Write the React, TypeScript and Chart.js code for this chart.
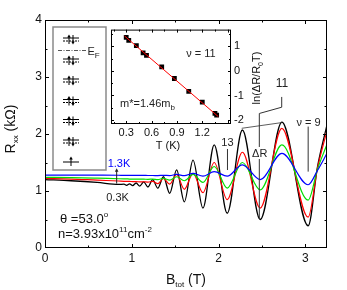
import React, { useEffect, useRef } from 'react';
import { Chart, registerables } from 'chart.js';

Chart.register(...registerables);

const FONT = "'Liberation Sans', Arial, Helvetica, sans-serif";

// ---- main panel: R_xx (kOhm) vs B_tot (T), four temperatures ----
const bField = [0, 0.3, 0.6, 0.85, 0.91, 0.941, 0.975, 1.011, 1.05, 1.092, 1.1375, 1.187, 1.241, 1.3, 1.365, 1.437, 1.517, 1.606, 1.706, 1.82, 1.95, 2.1, 2.275, 2.48, 2.73, 3.033, 3.14, 3.25];
const r03K = [1.2, 1.18, 1.15, 1.115, 1.12, 1.1, 1.125, 1.095, 1.14, 1.085, 1.16, 1.07, 1.2, 1.05, 1.25, 0.96, 1.37, 0.81, 1.54, 0.7, 1.81, 0.61, 2.07, 0.5, 2.21, 0.39, 1.42, 2.16];
const rRed = [1.22, 1.21, 1.19, 1.175, 1.17, 1.17, 1.168, 1.165, 1.165, 1.16, 1.162, 1.155, 1.17, 1.13, 1.22, 1.12, 1.29, 1.03, 1.31, 0.97, 1.5, 0.85, 1.68, 0.7, 2.1, 0.54, 1.4, 2.06];
const rGreen = [1.24, 1.235, 1.225, 1.215, 1.213, 1.212, 1.21, 1.21, 1.21, 1.208, 1.208, 1.205, 1.21, 1.2, 1.22, 1.19, 1.25, 1.18, 1.29, 1.15, 1.43, 1.05, 1.5, 1.02, 1.81, 0.84, 1.38, 1.82];
const r13K = [1.28, 1.28, 1.278, 1.276, 1.275, 1.275, 1.275, 1.274, 1.274, 1.273, 1.273, 1.272, 1.272, 1.27, 1.275, 1.27, 1.29, 1.27, 1.31, 1.26, 1.34, 1.26, 1.46, 1.2, 1.66, 1.11, 1.36, 1.66];

const mainXTicks = [0, 1, 2, 3];
const mainYTicks = [0, 1, 2, 3, 4];

// ---- inset: ln(dR/R0T) vs T (K) ----
const insetT = [0.3, 0.33, 0.42, 0.5, 0.54, 0.72, 0.87, 1.04, 1.2, 1.35, 1.37];
const insetLn = [1.36, 1.24, 1.03, 0.73, 0.63, 0.16, -0.31, -0.83, -1.27, -1.73, -1.8];
const fitT = [0.28, 1.39];
const fitLn = [1.42, -1.86];
const insetXTicks = [0.3, 0.6, 0.9, 1.2];
const insetYTicks = [-2, -1, 0, 1];

type Part = { t: string; s: number; dy?: number };

function partsWidth(ctx: CanvasRenderingContext2D, parts: Part[]) {
  let w = 0;
  for (const p of parts) {
    ctx.font = `${p.s}px ${FONT}`;
    w += ctx.measureText(p.t).width;
  }
  return w;
}

function drawParts(ctx: CanvasRenderingContext2D, parts: Part[], x: number, baseline: number, align: 'left' | 'center') {
  let cx = align === 'center' ? x - partsWidth(ctx, parts) / 2 : x;
  ctx.textAlign = 'left';
  ctx.textBaseline = 'alphabetic';
  for (const p of parts) {
    ctx.font = `${p.s}px ${FONT}`;
    ctx.fillText(p.t, cx, baseline + (p.dy || 0));
    cx += ctx.measureText(p.t).width;
  }
}

function line(ctx: CanvasRenderingContext2D, x1: number, y1: number, x2: number, y2: number) {
  ctx.beginPath();
  ctx.moveTo(x1, y1);
  ctx.lineTo(x2, y2);
  ctx.stroke();
}

function arrowHead(ctx: CanvasRenderingContext2D, x: number, y: number, dir: number, w: number, h: number) {
  ctx.beginPath();
  ctx.moveTo(x, y);
  ctx.lineTo(x - w, y - dir * h);
  ctx.lineTo(x + w, y - dir * h);
  ctx.closePath();
  ctx.fill();
}

const mainDeco = {
  id: 'mainDeco',
  afterDatasetsDraw(chart: any) {
    const ctx: CanvasRenderingContext2D = chart.ctx;
    const a = chart.chartArea;
    const xs = chart.scales.x;
    const ys = chart.scales.y;
    const X = (v: number) => xs.getPixelForValue(v);
    const Y = (v: number) => ys.getPixelForValue(v);
    ctx.save();

    // frame + inner ticks
    ctx.strokeStyle = '#000';
    ctx.lineWidth = 1;
    ctx.setLineDash([]);
    ctx.strokeRect(a.left + 0.5, a.top + 0.5, a.right - a.left - 1, a.bottom - a.top - 1);
    ctx.beginPath();
    for (let i = 1; i <= 6; i++) {
      const len = i % 2 === 0 ? 4 : 2.5;
      const px = Math.round(X(i * 0.5)) + 0.5;
      ctx.moveTo(px, a.bottom);
      ctx.lineTo(px, a.bottom - len);
      ctx.moveTo(px, a.top);
      ctx.lineTo(px, a.top + len);
    }
    for (let i = 1; i <= 7; i++) {
      const len = i % 2 === 0 ? 4 : 2.5;
      const py = Math.round(Y(i * 0.5)) + 0.5;
      ctx.moveTo(a.left, py);
      ctx.lineTo(a.left + len, py);
      ctx.moveTo(a.right, py);
      ctx.lineTo(a.right - len, py);
    }
    ctx.stroke();

    // level diagram inset
    const bx = 53, by = 27, bw = 53, bh = 143;
    ctx.fillStyle = '#fff';
    ctx.fillRect(bx, by, bw, bh);
    ctx.strokeStyle = '#8a8a8a';
    ctx.lineWidth = 1.5;
    ctx.strokeRect(bx, by, bw, bh);
    ctx.strokeStyle = '#000';
    ctx.fillStyle = '#000';
    ctx.lineWidth = 1;
    const levels = [39.5, 60.5, 80.5, 101, 121, 141.5];
    for (const ly of levels) {
      ctx.setLineDash([]);
      line(ctx, 63, ly - 1.5, 79, ly - 1.5);
      ctx.setLineDash([2, 1]);
      line(ctx, 63, ly + 1.5, 79, ly + 1.5);
      ctx.setLineDash([]);
      line(ctx, 69, ly + 4.5, 69, ly - 2.5);
      arrowHead(ctx, 69, ly - 5, -1, 1.8, 3);
      line(ctx, 73, ly - 4.5, 73, ly + 2.5);
      arrowHead(ctx, 73, ly + 5, 1, 1.8, 3);
    }
    ctx.setLineDash([]);
    line(ctx, 63, 162, 79, 162);
    line(ctx, 71, 166, 71, 159);
    arrowHead(ctx, 71, 156.5, -1, 1.8, 3);
    // Fermi level
    ctx.strokeStyle = '#555';
    ctx.setLineDash([4, 1.5, 1, 1.5]);
    line(ctx, 58, 50.5, 86, 50.5);
    ctx.setLineDash([]);
    ctx.fillStyle = '#222';
    drawParts(ctx, [{ t: 'E', s: 11 }, { t: 'F', s: 8, dy: 3 }], 87.5, 55, 'left');

    // annotations
    ctx.fillStyle = '#0000ff';
    drawParts(ctx, [{ t: '1.3K', s: 11 }], X(0.853), Y(1.491) + 4, 'center');
    ctx.fillStyle = '#222';
    drawParts(ctx, [{ t: '0.3K', s: 11 }], X(0.836), Y(0.895) + 4, 'center');
    ctx.strokeStyle = '#222';
    ctx.lineWidth = 1;
    line(ctx, X(0.826), Y(1.13), X(0.826), Y(1.36));
    arrowHead(ctx, X(0.826), Y(1.4), -1, 1.8, 3.5);

    ctx.fillStyle = '#111';
    drawParts(ctx, [{ t: '\u03B8 =53.0', s: 13 }, { t: 'o', s: 8, dy: -6 }], X(0.173), Y(0.526) + 4.5, 'left');
    drawParts(ctx, [
      { t: 'n=3.93x10', s: 13 },
      { t: '11', s: 8, dy: -6 },
      { t: 'cm', s: 13 },
      { t: '-2', s: 8, dy: -6 },
    ], X(0.15), Y(0.263) + 4.5, 'left');

    ctx.fillStyle = '#222';
    ctx.strokeStyle = '#333';
    ctx.lineWidth = 1;
    // nu = 13
    drawParts(ctx, [{ t: '13', s: 11 }], X(2.103), Y(1.86) + 4, 'center');
    line(ctx, X(2.103), Y(1.737), X(2.103), Y(1.368));
    // envelope + Delta R + nu = 11 bracket
    ctx.lineWidth = 0.8;
    line(ctx, X(2.267), Y(2.1), X(2.728), Y(2.2));
    ctx.lineWidth = 1;
    line(ctx, X(2.728), Y(2.65), X(2.728), Y(2.47));
    line(ctx, X(2.728), Y(2.47), X(2.47), Y(2.36));
    line(ctx, X(2.47), Y(2.36), X(2.47), Y(0.52));
    const dX = X(2.475), dY = Y(1.667);
    ctx.fillStyle = '#fff';
    ctx.fillRect(dX - 8, dY - 6, 16, 12);
    ctx.fillStyle = '#222';
    drawParts(ctx, [{ t: '\u0394R', s: 11 }], dX, dY + 4, 'center');
    drawParts(ctx, [{ t: '11', s: 12 }], X(2.732), Y(2.895) + 4.3, 'center');
    // nu = 9
    drawParts(ctx, [{ t: '\u03BD = 9', s: 11 }], X(3.037), Y(2.21) + 4, 'center');
    line(ctx, X(3.033), Y(2.13), X(3.033), Y(1.34));

    // axis titles
    ctx.fillStyle = '#111';
    drawParts(ctx, [{ t: 'B', s: 14 }, { t: 'tot', s: 8, dy: 3 }, { t: ' (T)', s: 14 }], (a.left + a.right) / 2, 284, 'center');
    ctx.save();
    ctx.translate(9.5, 129);
    ctx.rotate(-Math.PI / 2);
    drawParts(ctx, [{ t: 'R', s: 14 }, { t: 'xx', s: 8, dy: 3 }, { t: ' (k\u03A9)', s: 14 }], 0, 5, 'center');
    ctx.restore();

    ctx.restore();
  },
};

const insetDeco = {
  id: 'insetDeco',
  beforeDatasetsDraw(chart: any) {
    const ctx: CanvasRenderingContext2D = chart.ctx;
    const a = chart.chartArea;
    ctx.save();
    ctx.fillStyle = '#fff';
    ctx.fillRect(a.left, a.top, a.right - a.left, a.bottom - a.top);
    ctx.restore();
  },
  afterDatasetsDraw(chart: any) {
    const ctx: CanvasRenderingContext2D = chart.ctx;
    const a = chart.chartArea;
    const xs = chart.scales.x;
    const ys = chart.scales.y;
    const X = (v: number) => xs.getPixelForValue(v);
    const Y = (v: number) => ys.getPixelForValue(v);
    ctx.save();
    ctx.strokeStyle = '#000';
    ctx.lineWidth = 1;
    ctx.strokeRect(a.left + 0.5, a.top + 0.5, a.right - a.left - 1, a.bottom - a.top - 1);
    ctx.beginPath();
    for (let i = 1; i <= 10; i++) {
      const len = i % 2 === 0 ? 3 : 2;
      const px = Math.round(X(i * 0.15)) + 0.5;
      if (px <= a.left + 1 || px >= a.right - 1) continue;
      ctx.moveTo(px, a.bottom);
      ctx.lineTo(px, a.bottom - len);
      ctx.moveTo(px, a.top);
      ctx.lineTo(px, a.top + len);
    }
    for (let i = -4; i <= 3; i++) {
      const len = i % 2 === 0 ? 3 : 2;
      const py = Math.round(Y(i * 0.5)) + 0.5;
      ctx.moveTo(a.left, py);
      ctx.lineTo(a.left + len, py);
      ctx.moveTo(a.right, py);
      ctx.lineTo(a.right - len, py);
    }
    ctx.stroke();

    ctx.fillStyle = '#222';
    drawParts(ctx, [{ t: '\u03BD = 11', s: 11 }], X(1.185), Y(0.72) + 4, 'center');
    drawParts(ctx, [{ t: 'm*=1.46m', s: 11 }, { t: 'b', s: 8, dy: 3 }], X(0.227), Y(-1.32) + 4, 'left');

    ctx.fillStyle = '#111';
    drawParts(ctx, [{ t: 'T (K)', s: 11 }], 68, 129, 'center');
    ctx.save();
    ctx.translate(160, 58);
    ctx.rotate(-Math.PI / 2);
    drawParts(ctx, [
      { t: 'ln(\u0394R/R', s: 11 },
      { t: '0', s: 7, dy: 2.5 },
      { t: 'T)', s: 11 },
    ], 0, 0, 'center');
    ctx.restore();
    ctx.restore();
  },
};

export default function App() {
  const mainRef = useRef<HTMLCanvasElement>(null);
  const insetRef = useRef<HTMLCanvasElement>(null);

  useEffect(() => {
    const tickFont = { family: FONT, size: 12 };
    const series = [
      { v: r13K, c: '#0000ff', w: 1.2 },
      { v: rGreen, c: '#00dd00', w: 1.2 },
      { v: rRed, c: '#ff0000', w: 1.2 },
      { v: r03K, c: '#000000', w: 1.3 },
    ];
    const main = new Chart(mainRef.current as HTMLCanvasElement, {
      type: 'scatter',
      data: {
        datasets: series.map((s) => ({
          data: bField.map((b, i) => ({ x: b, y: s.v[i] })),
          showLine: true,
          borderColor: s.c,
          borderWidth: s.w,
          pointRadius: 0,
          cubicInterpolationMode: 'monotone' as const,
          fill: false,
        })),
      },
      options: {
        animation: false,
        responsive: false,
        devicePixelRatio: 1,
        layout: { padding: { left: 0, top: 20, right: 20, bottom: 0 } },
        plugins: { legend: { display: false }, tooltip: { enabled: false } },
        scales: {
          x: {
            type: 'linear',
            min: 0,
            max: 3.25,
            afterBuildTicks: (s: any) => { s.ticks = mainXTicks.map((v) => ({ value: v })); },
            afterFit: (s: any) => { s.height = 42; },
            grid: { display: false, drawTicks: false },
            border: { display: false },
            ticks: { font: tickFont, color: '#111', padding: 3, maxRotation: 0, callback: (v: any) => String(v) },
          },
          y: {
            type: 'linear',
            min: 0,
            max: 4,
            afterBuildTicks: (s: any) => { s.ticks = mainYTicks.map((v) => ({ value: v })); },
            afterFit: (s: any) => { s.width = 45; },
            grid: { display: false, drawTicks: false },
            border: { display: false },
            ticks: { font: tickFont, color: '#111', padding: 3, callback: (v: any) => String(v) },
          },
        },
      },
      plugins: [mainDeco],
    } as any);

    const inset = new Chart(insetRef.current as HTMLCanvasElement, {
      type: 'scatter',
      data: {
        datasets: [
          {
            data: fitT.map((t, i) => ({ x: t, y: fitLn[i] })),
            showLine: true,
            borderColor: '#ff0000',
            borderWidth: 1,
            pointRadius: 0,
          },
          {
            data: insetT.map((t, i) => ({ x: t, y: insetLn[i] })),
            showLine: false,
            pointStyle: 'rect',
            pointRadius: 3.4,
            backgroundColor: '#000',
            borderColor: '#000',
            borderWidth: 0,
          },
        ],
      },
      options: {
        animation: false,
        responsive: false,
        devicePixelRatio: 1,
        layout: { padding: { left: 11, top: 8, right: 0, bottom: 0 } },
        plugins: { legend: { display: false }, tooltip: { enabled: false } },
        scales: {
          x: {
            type: 'linear',
            min: 0.12,
            max: 1.54,
            afterBuildTicks: (s: any) => { s.ticks = insetXTicks.map((v) => ({ value: v })); },
            afterFit: (s: any) => { s.height = 31; },
            grid: { display: false, drawTicks: false },
            border: { display: false },
            ticks: { font: { family: FONT, size: 11 }, color: '#111', padding: 2, maxRotation: 0, callback: (v: any) => Number(v).toFixed(1) },
          },
          y: {
            type: 'linear',
            position: 'right',
            min: -2.16,
            max: 1.68,
            afterBuildTicks: (s: any) => { s.ticks = insetYTicks.map((v) => ({ value: v })); },
            afterFit: (s: any) => { s.width = 44; },
            grid: { display: false, drawTicks: false },
            border: { display: false },
            ticks: { font: { family: FONT, size: 11 }, color: '#111', padding: 3, callback: (v: any) => String(v) },
          },
        },
      },
      plugins: [insetDeco],
    } as any);

    return () => {
      main.destroy();
      inset.destroy();
    };
  }, []);

  return (
    <div style={{ position: 'fixed', left: 0, top: 0, width: 347, height: 290, background: '#fff', overflow: 'hidden' }}>
      <canvas ref={mainRef} width={347} height={290} style={{ position: 'absolute', left: 0, top: 0, width: 347, height: 290 }} />
      <canvas ref={insetRef} width={175} height={135} style={{ position: 'absolute', left: 100, top: 20, width: 175, height: 135 }} />
    </div>
  );
}
